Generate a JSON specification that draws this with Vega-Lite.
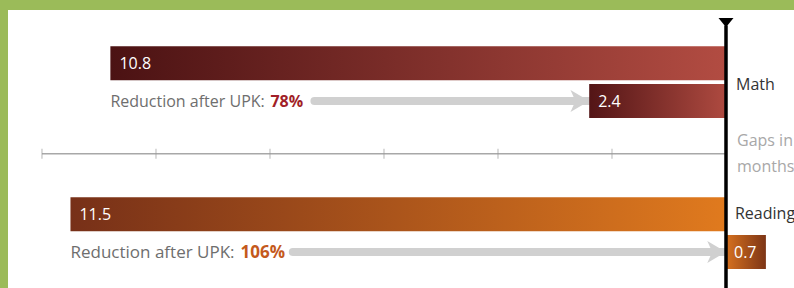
{
  "$schema": "https://vega.github.io/schema/vega-lite/v6.json",
  "width": 786,
  "height": 278,
  "padding": {"left": 8, "top": 10, "right": 0, "bottom": 0},
  "autosize": "none",
  "background": "#9bbb59",
  "config": {"view": {"fill": "white", "stroke": null}, "text": {"font": "Open Sans"}},
  "datasets": {
    "bars": [
      {"subject": "Math", "row": "Math before", "gap": 10.8, "label": "10.8"},
      {"subject": "Math", "row": "Math after", "gap": 2.4, "label": "2.4"},
      {"subject": "Reading", "row": "Reading before", "gap": 11.5, "label": "11.5"},
      {"subject": "Reading", "row": "Reading after", "gap": -0.7, "label": "0.7"}
    ],
    "reductions": [
      {"subject": "Math", "row": "Math after", "caption": "Reduction after UPK:", "pct": "78%", "from": 10.8, "start": 7.22, "end": 2.4},
      {"subject": "Reading", "row": "Reading after", "caption": "Reduction after UPK:", "pct": "106%", "from": 11.5, "start": 7.6, "end": 0}
    ],
    "ticks": [{"month": 0}, {"month": 2}, {"month": 4}, {"month": 6}, {"month": 8}, {"month": 10}, {"month": 12}]
  },
  "data": {"name": "bars"},
  "layer": [
    {
      "data": {"values": [{"from": 12, "to": 0}]},
      "mark": {"type": "rule", "color": "#a8a8a8", "strokeWidth": 1.5},
      "encoding": {
        "x": {"field": "from", "type": "quantitative", "scale": {"domain": [-1.193, 12.596], "reverse": true, "nice": false, "zero": false}, "axis": null},
        "x2": {"field": "to"},
        "y": {"datum": "gap1", "type": "nominal", "scale": {"type": "point", "domain": ["top", "Math before", "Math after", "gap1", "gap2", "Reading before", "Reading after", "bottom"], "range": [15.46, 279.64], "padding": 0}, "axis": null},
        "yOffset": {"value": 15}
      }
    },
    {
      "data": {"name": "ticks"},
      "mark": {"type": "tick", "orient": "vertical", "color": "#999999", "thickness": 1, "size": 10},
      "encoding": {
        "x": {"field": "month", "type": "quantitative"},
        "y": {"datum": "gap1", "type": "nominal"},
        "yOffset": {"value": 15}
      }
    },
    {
      "data": {"name": "reductions"},
      "mark": {"type": "rule", "color": "#d0d0d0", "strokeWidth": 8, "strokeCap": "round"},
      "encoding": {
        "x": {"field": "start", "type": "quantitative"},
        "x2": {"field": "end"},
        "y": {"field": "row", "type": "nominal"}
      }
    },
    {
      "data": {"name": "reductions"},
      "mark": {"type": "point", "shape": "M0,0L-1.7,-1L-1.25,0L-1.7,1Z", "size": 484, "filled": true, "color": "#d0d0d0", "opacity": 1, "strokeWidth": 0},
      "encoding": {
        "x": {"field": "end", "type": "quantitative"},
        "y": {"field": "row", "type": "nominal"}
      }
    },
    {
      "transform": [{"filter": "datum.row === 'Math before'"}],
      "mark": {"type": "bar", "height": 34, "fill": {"gradient": "linear", "x1": 0, "y1": 0, "x2": 1, "y2": 0, "stops": [{"offset": 0, "color": "#4b1213"}, {"offset": 1, "color": "#b24c42"}]}},
      "encoding": {"x": {"field": "gap", "type": "quantitative"}, "x2": {"datum": 0}, "y": {"field": "row", "type": "nominal"}}
    },
    {
      "transform": [{"filter": "datum.row === 'Math after'"}],
      "mark": {"type": "bar", "height": 34, "fill": {"gradient": "linear", "x1": 0, "y1": 0, "x2": 1, "y2": 0, "stops": [{"offset": 0, "color": "#531516"}, {"offset": 1, "color": "#ae4a40"}]}},
      "encoding": {"x": {"field": "gap", "type": "quantitative"}, "x2": {"datum": 0}, "y": {"field": "row", "type": "nominal"}}
    },
    {
      "transform": [{"filter": "datum.row === 'Reading before'"}],
      "mark": {"type": "bar", "height": 34, "fill": {"gradient": "linear", "x1": 0, "y1": 0, "x2": 1, "y2": 0, "stops": [{"offset": 0, "color": "#773018"}, {"offset": 1, "color": "#e07a1e"}]}},
      "encoding": {"x": {"field": "gap", "type": "quantitative"}, "x2": {"datum": 0}, "y": {"field": "row", "type": "nominal"}}
    },
    {
      "transform": [{"filter": "datum.row === 'Reading after'"}],
      "mark": {"type": "bar", "height": 34, "fill": {"gradient": "linear", "x1": 0, "y1": 0, "x2": 1, "y2": 0, "stops": [{"offset": 0, "color": "#d6711f"}, {"offset": 1, "color": "#7d3516"}]}},
      "encoding": {"x": {"field": "gap", "type": "quantitative"}, "x2": {"datum": 0}, "y": {"field": "row", "type": "nominal"}}
    },
    {
      "transform": [{"filter": "datum.gap > 0"}],
      "mark": {"type": "text", "align": "left", "baseline": "middle", "dx": 9, "dy": 1, "fontSize": 16, "color": "white"},
      "encoding": {"x": {"field": "gap", "type": "quantitative"}, "y": {"field": "row", "type": "nominal"}, "text": {"field": "label"}}
    },
    {
      "transform": [{"filter": "datum.gap < 0"}],
      "mark": {"type": "text", "align": "left", "baseline": "middle", "dx": 8, "dy": 1, "fontSize": 16, "color": "white"},
      "encoding": {"x": {"datum": 0, "type": "quantitative"}, "y": {"field": "row", "type": "nominal"}, "text": {"field": "label"}}
    },
    {
      "data": {"name": "reductions"},
      "transform": [{"filter": "datum.subject === 'Math'"}],
      "mark": {"type": "text", "align": "left", "baseline": "alphabetic", "dy": 6.5, "fontSize": 16, "color": "#6e6e6e"},
      "encoding": {"x": {"field": "from", "type": "quantitative"}, "y": {"field": "row", "type": "nominal"}, "text": {"field": "caption"}}
    },
    {
      "data": {"name": "reductions"},
      "transform": [{"filter": "datum.subject === 'Math'"}],
      "mark": {"type": "text", "align": "left", "baseline": "alphabetic", "dx": 160, "dy": 6.5, "fontSize": 16, "fontWeight": "bold", "color": "#a11f28"},
      "encoding": {"x": {"field": "from", "type": "quantitative"}, "y": {"field": "row", "type": "nominal"}, "text": {"field": "pct"}}
    },
    {
      "data": {"name": "reductions"},
      "transform": [{"filter": "datum.subject === 'Reading'"}],
      "mark": {"type": "text", "align": "left", "baseline": "alphabetic", "dy": 6.5, "fontSize": 17, "color": "#6e6e6e"},
      "encoding": {"x": {"field": "from", "type": "quantitative"}, "y": {"field": "row", "type": "nominal"}, "text": {"field": "caption"}}
    },
    {
      "data": {"name": "reductions"},
      "transform": [{"filter": "datum.subject === 'Reading'"}],
      "mark": {"type": "text", "align": "left", "baseline": "alphabetic", "dx": 170, "dy": 6.5, "fontSize": 17, "fontWeight": "bold", "color": "#c4591c"},
      "encoding": {"x": {"field": "from", "type": "quantitative"}, "y": {"field": "row", "type": "nominal"}, "text": {"field": "pct"}}
    },
    {
      "data": {"values": [{"edge": "top", "end": "bottom"}]},
      "mark": {"type": "rule", "color": "black", "strokeWidth": 3.5},
      "encoding": {"x": {"datum": 0, "type": "quantitative"}, "y": {"field": "edge", "type": "nominal"}, "y2": {"field": "end"}}
    },
    {
      "data": {"values": [{"edge": "top"}]},
      "mark": {"type": "point", "shape": "M-1,-1L1,-1L0,0.25Z", "size": 225, "filled": true, "color": "black", "opacity": 1, "strokeWidth": 0},
      "encoding": {"x": {"datum": 0, "type": "quantitative"}, "y": {"field": "edge", "type": "nominal"}}
    },
    {
      "data": {"values": [{"label": "Math", "row": "Math after"}]},
      "mark": {"type": "text", "align": "left", "baseline": "alphabetic", "dx": 10, "dy": -11, "fontSize": 16, "color": "#333333"},
      "encoding": {"x": {"datum": 0, "type": "quantitative"}, "y": {"field": "row", "type": "nominal"}, "text": {"field": "label"}}
    },
    {
      "data": {"values": [{"label": "Reading", "row": "Reading before"}]},
      "mark": {"type": "text", "align": "left", "baseline": "alphabetic", "dx": 9, "dy": 5, "fontSize": 16, "color": "#333333"},
      "encoding": {"x": {"datum": 0, "type": "quantitative"}, "y": {"field": "row", "type": "nominal"}, "text": {"field": "label"}}
    },
    {
      "data": {"values": [{"label": "Gaps in", "row": "gap1"}]},
      "mark": {"type": "text", "align": "left", "baseline": "alphabetic", "dx": 11, "dy": 7.3, "fontSize": 16, "color": "#a8a8a8"},
      "encoding": {"x": {"datum": 0, "type": "quantitative"}, "y": {"field": "row", "type": "nominal"}, "text": {"field": "label"}}
    },
    {
      "data": {"values": [{"label": "months", "row": "gap1"}]},
      "mark": {"type": "text", "align": "left", "baseline": "alphabetic", "dx": 11, "dy": 33, "fontSize": 16, "color": "#a8a8a8"},
      "encoding": {"x": {"datum": 0, "type": "quantitative"}, "y": {"field": "row", "type": "nominal"}, "text": {"field": "label"}}
    }
  ]
}
